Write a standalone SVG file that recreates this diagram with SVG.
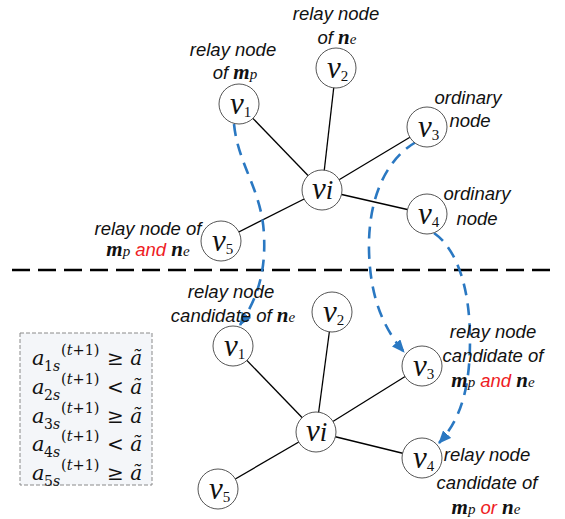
<svg xmlns="http://www.w3.org/2000/svg" width="565" height="519" viewBox="0 0 565 519">
  <defs>
    <style>
      .edge { stroke: #000; stroke-width: 1.3; fill: none; }
      .node { fill: #fff; stroke: #555; stroke-width: 1; }
      .flow { stroke: #2a78c2; stroke-width: 2.6; fill: none; stroke-dasharray: 12 8; marker-end: url(#arrow); }
      .v { font-family: "Liberation Serif", "Times New Roman", serif; font-style: italic; font-size: 31px; fill: #111; }
      .sub { font-family: "Liberation Serif", "Times New Roman", serif; font-style: normal; font-size: 15px; }
      .lbl { font-family: "Liberation Sans", Arial, sans-serif; font-style: italic; font-size: 18.5px; fill: #111; text-anchor: middle; }
      .mb { font-family: "Liberation Serif", "Times New Roman", serif; font-style: italic; font-weight: bold; font-size: 21px; }
      .ms { font-family: "Liberation Serif", "Times New Roman", serif; font-style: italic; font-weight: normal; font-size: 15px; }
      .red { fill: #ee1c24; }
      .math { font-family: "DejaVu Serif", "Liberation Serif", serif; fill: #111; }
      .ma { font-style: italic; font-size: 21px; }
      .mi { font-size: 14px; }
      .mp { font-size: 14.5px; }
      .rel { font-size: 20px; }
    </style>
    <marker id="arrow" viewBox="0 0 13 11" refX="12" refY="5.5" markerWidth="13" markerHeight="11" markerUnits="userSpaceOnUse" orient="auto">
      <path d="M0,0 L13,5.5 L0,11 Z" fill="#2a78c2"/>
    </marker>
  </defs>

  <rect width="565" height="519" fill="#fff"/>

  <!-- separator between the two time steps -->
  <line x1="12" y1="270" x2="556" y2="270" stroke="#000" stroke-width="2.5" stroke-dasharray="18 8"/>

  <!-- condition box -->
  <g id="conditions">
    <rect x="20" y="333" width="132" height="152" fill="#f4f6f9" stroke="#8a8a8a" stroke-width="1" stroke-dasharray="4 2"/>
    <g class="math">
      <text x="32" y="365" class="ma">a</text><text x="44" y="371" class="mi">1<tspan font-style="italic">s</tspan></text><text x="61" y="355" class="mp">(<tspan font-style="italic">t</tspan>+1)</text><text x="107" y="365" class="rel">≥ <tspan font-style="italic">ã</tspan></text>
      <text x="32" y="394" class="ma">a</text><text x="44" y="400" class="mi">2<tspan font-style="italic">s</tspan></text><text x="61" y="384" class="mp">(<tspan font-style="italic">t</tspan>+1)</text><text x="107" y="394" class="rel">&lt; <tspan font-style="italic">ã</tspan></text>
      <text x="32" y="423" class="ma">a</text><text x="44" y="429" class="mi">3<tspan font-style="italic">s</tspan></text><text x="61" y="413" class="mp">(<tspan font-style="italic">t</tspan>+1)</text><text x="107" y="423" class="rel">≥ <tspan font-style="italic">ã</tspan></text>
      <text x="32" y="451" class="ma">a</text><text x="44" y="457" class="mi">4<tspan font-style="italic">s</tspan></text><text x="61" y="441" class="mp">(<tspan font-style="italic">t</tspan>+1)</text><text x="107" y="451" class="rel">&lt; <tspan font-style="italic">ã</tspan></text>
      <text x="32" y="480" class="ma">a</text><text x="44" y="486" class="mi">5<tspan font-style="italic">s</tspan></text><text x="61" y="470" class="mp">(<tspan font-style="italic">t</tspan>+1)</text><text x="107" y="480" class="rel">≥ <tspan font-style="italic">ã</tspan></text>
    </g>
  </g>

  <g id="connectors">
    <!-- upper graph -->
    <line class="edge" x1="322" y1="190" x2="239" y2="104"/>
    <line class="edge" x1="322" y1="190" x2="336" y2="68"/>
    <line class="edge" x1="322" y1="190" x2="427" y2="127"/>
    <line class="edge" x1="322" y1="190" x2="427" y2="214"/>
    <line class="edge" x1="322" y1="190" x2="221" y2="241"/>
    <!-- lower graph -->
    <line class="edge" x1="316" y1="432" x2="233" y2="346"/>
    <line class="edge" x1="316" y1="432" x2="332" y2="312"/>
    <line class="edge" x1="316" y1="432" x2="422" y2="366"/>
    <line class="edge" x1="316" y1="432" x2="422" y2="458"/>
    <line class="edge" x1="316" y1="432" x2="218" y2="489"/>
    <!-- role transitions -->
    <path class="flow" d="M234,124 C238,165 262,190 264,235 C266,275 256,300 240,325"/>
    <path class="flow" d="M416,142 C385,160 368,200 369,250 C370,300 385,330 404,352"/>
    <path class="flow" d="M434,233 C458,250 470,290 470,340 C470,390 460,420 439,443"/>
  </g>

  <!-- upper graph nodes -->
  <g id="top-v1">
    <circle class="node" cx="239" cy="104" r="20"/>
    <text class="v" x="230" y="114">v<tspan class="sub" dy="3">1</tspan></text>
    <text class="lbl" x="233" y="56">relay node</text>
    <text class="lbl" x="235" y="79">of <tspan class="mb">m</tspan><tspan class="ms">p</tspan></text>
  </g>
  <g id="top-v2">
    <circle class="node" cx="336" cy="68" r="20"/>
    <text class="v" x="327" y="78">v<tspan class="sub" dy="3">2</tspan></text>
    <text class="lbl" x="336" y="20">relay node</text>
    <text class="lbl" x="337" y="44">of <tspan class="mb">n</tspan><tspan class="ms">e</tspan></text>
  </g>
  <g id="top-vi">
    <circle class="node" cx="322" cy="190" r="20"/>
    <text class="v" x="312" y="199">v<tspan font-size="27px">i</tspan></text>
  </g>
  <g id="top-v3">
    <circle class="node" cx="427" cy="127" r="20"/>
    <text class="v" x="418" y="137">v<tspan class="sub" dy="3">3</tspan></text>
    <text class="lbl" x="468" y="104">ordinary</text>
    <text class="lbl" x="470" y="127">node</text>
  </g>
  <g id="top-v4">
    <circle class="node" cx="427" cy="214" r="20"/>
    <text class="v" x="418" y="224">v<tspan class="sub" dy="3">4</tspan></text>
    <text class="lbl" x="477" y="200">ordinary</text>
    <text class="lbl" x="477" y="225">node</text>
  </g>
  <g id="top-v5">
    <circle class="node" cx="221" cy="241" r="20"/>
    <text class="v" x="212" y="251">v<tspan class="sub" dy="3">5</tspan></text>
    <text class="lbl" x="148" y="235">relay node of</text>
    <text class="lbl" x="148" y="256"><tspan class="mb">m</tspan><tspan class="ms">p</tspan> <tspan class="red">and</tspan> <tspan class="mb">n</tspan><tspan class="ms">e</tspan></text>
  </g>

  <!-- lower graph nodes -->
  <g id="bottom-v1">
    <circle class="node" cx="233" cy="346" r="20"/>
    <text class="v" x="224" y="356">v<tspan class="sub" dy="3">1</tspan></text>
    <text class="lbl" x="231" y="298">relay node</text>
    <text class="lbl" x="233" y="322">candidate of  <tspan class="mb">n</tspan><tspan class="ms">e</tspan></text>
  </g>
  <g id="bottom-v2">
    <circle class="node" cx="332" cy="312" r="20"/>
    <text class="v" x="323" y="322">v<tspan class="sub" dy="3">2</tspan></text>
  </g>
  <g id="bottom-vi">
    <circle class="node" cx="316" cy="432" r="20"/>
    <text class="v" x="306" y="441">v<tspan font-size="27px">i</tspan></text>
  </g>
  <g id="bottom-v3">
    <circle class="node" cx="422" cy="366" r="20"/>
    <text class="v" x="413" y="376">v<tspan class="sub" dy="3">3</tspan></text>
    <text class="lbl" x="493" y="338">relay node</text>
    <text class="lbl" x="493" y="362">candidate of</text>
    <text class="lbl" x="493" y="387"><tspan class="mb">m</tspan><tspan class="ms">p</tspan> <tspan class="red">and</tspan> <tspan class="mb">n</tspan><tspan class="ms">e</tspan></text>
  </g>
  <g id="bottom-v4">
    <circle class="node" cx="422" cy="458" r="20"/>
    <text class="v" x="413" y="468">v<tspan class="sub" dy="3">4</tspan></text>
    <text class="lbl" x="487" y="461">relay node</text>
    <text class="lbl" x="487" y="489">candidate of</text>
    <text class="lbl" x="486" y="514"><tspan class="mb">m</tspan><tspan class="ms">p</tspan> <tspan class="red">or</tspan> <tspan class="mb">n</tspan><tspan class="ms">e</tspan></text>
  </g>
  <g id="bottom-v5">
    <circle class="node" cx="218" cy="489" r="20"/>
    <text class="v" x="209" y="499">v<tspan class="sub" dy="3">5</tspan></text>
  </g>
</svg>
